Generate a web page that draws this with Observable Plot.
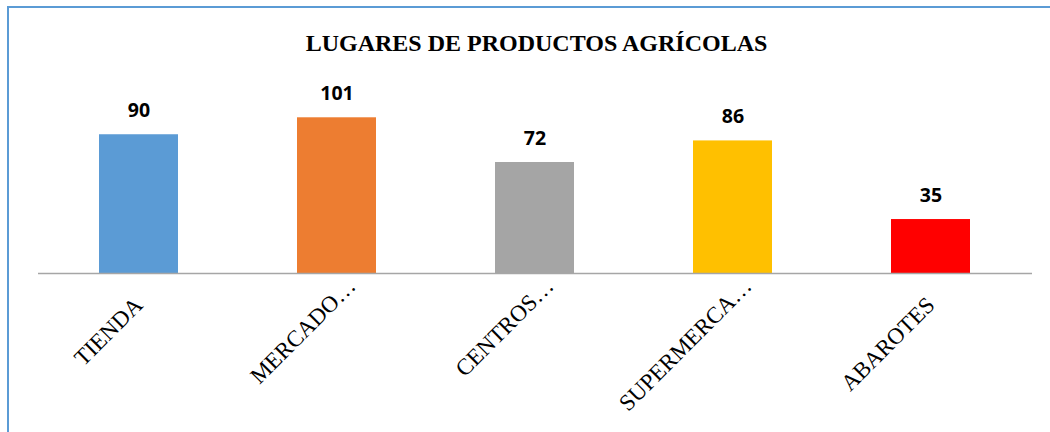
<!DOCTYPE html>
<html>
<head>
<meta charset="utf-8">
<script src="https://cdn.jsdelivr.net/npm/d3@7"></script>
<script src="https://cdn.jsdelivr.net/npm/@observablehq/plot@0.6"></script>
<style>
  html, body { margin: 0; padding: 0; background: #fff; overflow: hidden; width: 1050px; height: 432px; }
  #frame { position: absolute; left: 7px; top: 6px; width: 1200px; height: 600px; border: 2px solid #5B9BD5; box-sizing: border-box; }
  #title { position: absolute; left: 0; width: 1073px; top: 31px; text-align: center; font-family: "Liberation Serif", "Times New Roman", serif; font-weight: bold; font-size: 24px; line-height: 24px; color: #000; }
  #chart { position: absolute; left: 0; top: 0; }
</style>
</head>
<body>
<div id="frame"></div>
<div id="chart"></div>
<div id="title">LUGARES DE PRODUCTOS AGRÍCOLAS</div>
<script>
const categories = ["TIENDA", "MERCADO…", "CENTROS…", "SUPERMERCA…", "ABAROTES"];
const values = [90, 101, 72, 86, 35];
const colors = ["#5B9BD5", "#ED7D31", "#A5A5A5", "#FFC000", "#FF0000"];

const data = categories.map((c, i) => ({cat: c, value: values[i]}));
const truncated = data.filter(d => d.cat.endsWith("…"));
const full = data.filter(d => !d.cat.endsWith("…"));

const labelStyle = {
  x: "cat", y: () => 0, text: "cat", rotate: -45, textAnchor: "end", lineAnchor: "bottom",
  fontFamily: "Liberation Serif, Times New Roman, serif", fontSize: 23, fill: "#000"
};

const chart = Plot.plot({
  width: 1050,
  height: 432,
  marginLeft: 38,
  marginRight: 18,
  marginTop: 88,
  marginBottom: 159,
  x: {domain: categories, paddingInner: 0.6, paddingOuter: 0.3, axis: null},
  y: {domain: [0, 120], axis: null},
  color: {domain: categories, range: colors},
  marks: [
    Plot.barY(data, {x: "cat", y: "value", fill: "cat"}),
    Plot.ruleY([0], {stroke: "#A6A6A6", strokeWidth: 1.5}),
    Plot.text(data, {x: "cat", y: "value", text: d => String(d.value), dy: -18, lineAnchor: "bottom",
      fontFamily: "Open Sans, Liberation Sans, sans-serif", fontWeight: 700, fontSize: 19.5, fill: "#000"}),
    Plot.text(full, {...labelStyle, dx: 5, dy: 33}),
    Plot.text(truncated, {...labelStyle, dx: 20, dy: 14})
  ]
});
document.getElementById("chart").appendChild(chart);
</script>
</body>
</html>
